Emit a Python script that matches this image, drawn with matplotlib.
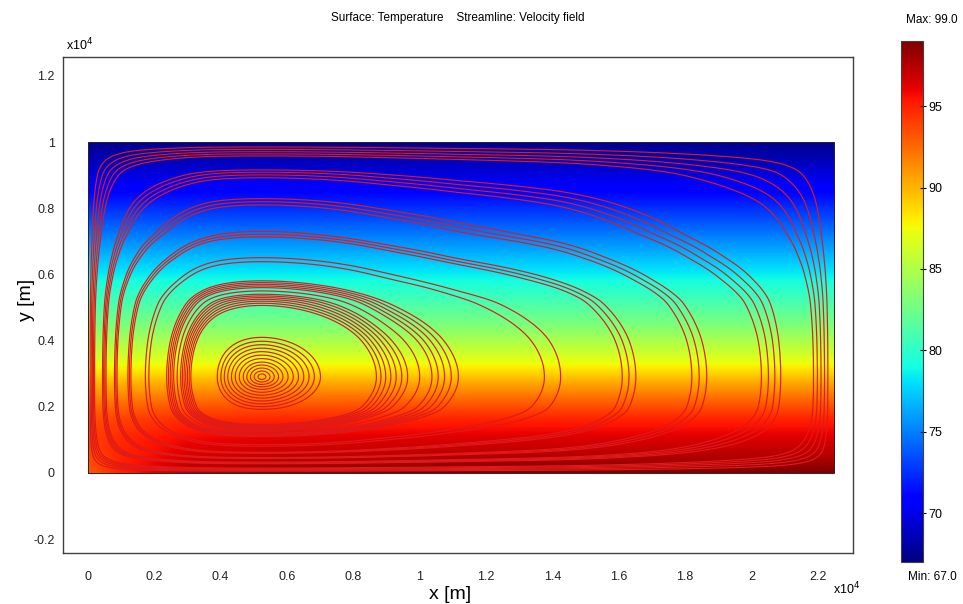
import numpy as np
import matplotlib
matplotlib.use('Agg')
import matplotlib.pyplot as plt

plt.rcParams['font.family'] = ['Liberation Sans', 'DejaVu Sans']

# ---------------- data ----------------
T_MIN, T_MAX = 67.0, 99.0
cbar_ticks = [70, 75, 80, 85, 90, 95]

x_ticks = [0, 0.2, 0.4, 0.6, 0.8, 1.0, 1.2, 1.4, 1.6, 1.8, 2.0, 2.2]
x_tick_labels = ['0', '0.2', '0.4', '0.6', '0.8', '1', '1.2', '1.4', '1.6', '1.8', '2', '2.2']
y_ticks = [-0.2, 0, 0.2, 0.4, 0.6, 0.8, 1.0, 1.2]
y_tick_labels = ['-0.2', '0', '0.2', '0.4', '0.6', '0.8', '1', '1.2']

domain_w, domain_h = 2.25, 1.0

# temperature read along height (x10^-4 m) -> degrees
profile_y = [0.0, 0.05, 0.10, 0.16, 0.20, 0.27, 0.34, 0.45, 0.60, 0.75, 0.85, 0.95, 1.0]
profile_T = [99.0, 97.5, 96.5, 95.0, 93.5, 90.5, 87.0, 83.0, 78.5, 74.0, 71.0, 68.5, 67.5]
# bottom-wall deviation along x
bottom_x = [0.0, 0.1, 0.3, 0.6, 1.2, 1.8, 2.25]
bottom_dT = [-6.0, -4.0, -1.5, -0.5, 0.0, 0.0, 0.0]

# vortex centre and extents of the nested streamline loops
vortex_x, vortex_y = 0.52, 0.29
loop_s = [0.0, 0.08, 0.16, 0.22, 0.28, 0.33, 0.38, 0.43, 0.48, 0.5]
loop_left = [0.52, 0.38, 0.30, 0.24, 0.17, 0.12, 0.08, 0.045, 0.015, 0.0]
loop_right = [0.52, 0.70, 0.89, 1.11, 1.43, 1.63, 1.84, 2.08, 2.22, 2.25]
loop_top = [0.29, 0.41, 0.52, 0.58, 0.65, 0.72, 0.82, 0.91, 0.97, 1.0]
loop_bottom = [0.29, 0.19, 0.14, 0.11, 0.08, 0.06, 0.045, 0.03, 0.012, 0.0]

# drawn streamlines (loop parameter)
stream_spiral = [0.006, 0.012, 0.018, 0.024, 0.030, 0.037, 0.044, 0.051, 0.058, 0.065, 0.072, 0.08]
stream_band = [0.15, 0.155, 0.16, 0.165, 0.17, 0.175, 0.18, 0.19, 0.20, 0.205, 0.21, 0.215, 0.22]
stream_outer = [0.27, 0.28, 0.325, 0.33, 0.335, 0.375, 0.38, 0.385,
                0.42, 0.425, 0.43, 0.435, 0.47, 0.475, 0.48, 0.485, 0.49]


# ---------------- helpers ----------------
def warp(length, center, lo_pts, hi_pts, s, sigma, n=4001):
    g = np.linspace(0, length, n)
    s = np.asarray(s)
    lo = np.asarray(lo_pts)
    hi = np.asarray(hi_pts)
    W = np.where(g < center,
                 0.5 - np.interp(g, lo[::-1], s[::-1]),
                 0.5 + np.interp(g, hi, s))
    dx = g[1] - g[0]
    k = max(1, int(3 * sigma / dx))
    t = np.arange(-k, k + 1) * dx
    ker = np.exp(-0.5 * (t / sigma) ** 2)
    ker /= ker.sum()
    padl = -W[1:k + 1][::-1]
    padr = 2 - W[-k - 1:-1][::-1]
    Wp = np.concatenate([padl, W, padr])
    Ws = np.convolve(Wp, ker, mode='valid')
    return g, Ws


gx, WX = warp(domain_w, vortex_x, loop_left, loop_right, loop_s, 0.045)
gy, WY = warp(domain_h, vortex_y, loop_bottom, loop_top, loop_s, 0.008)

nx, ny = 1400, 700
xs = np.linspace(0, domain_w, nx)
ys = np.linspace(0, domain_h, ny)
XX, YY = np.meshgrid(xs, ys)
PX = np.interp(xs, gx, WX)
PY = np.interp(ys, gy, WY)
psi = np.outer(np.sin(np.pi * PY), np.sin(np.pi * PX))

Tprof = np.interp(ys, profile_y, profile_T)
Tb = np.interp(xs, bottom_x, bottom_dT)
temp = Tprof[:, None] + Tb[None, :] * np.exp(-ys[:, None] / 0.12)

# ---------------- figure ----------------
fig = plt.figure(figsize=(9.63, 6.04), dpi=100)
ax = fig.add_axes([63 / 963, 51 / 604, 790 / 963, 496 / 604])
im = ax.imshow(temp, origin='lower', extent=[0, domain_w, 0, domain_h],
               cmap='jet', vmin=T_MIN, vmax=T_MAX, aspect='auto',
               interpolation='bilinear', zorder=1)

all_s = sorted(stream_spiral + stream_band + stream_outer)
levels = sorted(np.cos(np.pi * np.array(all_s)))
ax.contour(XX, YY, psi, levels=levels, colors='#de1a1a', linewidths=0.85, zorder=2)

ax.plot([0, domain_w, domain_w, 0, 0], [0, 0, domain_h, domain_h, 0],
        color='#302020', lw=0.7, zorder=3)

ax.set_xlim(-0.075, 2.306)
ax.set_ylim(-0.242, 1.257)
ax.set_xticks(x_ticks)
ax.set_xticklabels(x_tick_labels)
ax.set_yticks(y_ticks)
ax.set_yticklabels(y_tick_labels)
ax.tick_params(axis='x', length=0, labelsize=9, colors='#222222', pad=13)
ax.tick_params(axis='y', length=0, labelsize=9, colors='#222222', pad=6)
for sp in ax.spines.values():
    sp.set_color('#404040')
    sp.set_linewidth(1.0)
ax.set_xlabel('x [m]', fontsize=14, va='bottom')
ax.xaxis.set_label_coords(0.49, -0.1)
ax.set_ylabel('y [m]', fontsize=14)
ax.yaxis.set_label_coords(-0.035, 0.51)
ax.set_title('Surface: Temperature    Streamline: Velocity field', fontsize=8.5, pad=26)

fig.text(66 / 963, 1 - 50 / 604, r'x10$^{4}$', fontsize=9, va='baseline', ha='left')
fig.text(833 / 963, 1 - 594 / 604, r'x10$^{4}$', fontsize=9, va='baseline', ha='left')

cax = fig.add_axes([901 / 963, 42 / 604, 22 / 963, 521 / 604])
cb = fig.colorbar(im, cax=cax, ticks=cbar_ticks)
cb.ax.tick_params(labelsize=9, length=4, direction='inout', width=0.8, pad=2)
cb.outline.set_edgecolor('#404040')
cb.outline.set_linewidth(0.8)
fig.text(932 / 963, 1 - 20 / 604, 'Max: 99.0', fontsize=8.5, ha='center', va='center')
fig.text(932 / 963, 1 - 577 / 604, 'Min: 67.0', fontsize=8.5, ha='center', va='center')

fig.savefig('out.png', dpi=100)
